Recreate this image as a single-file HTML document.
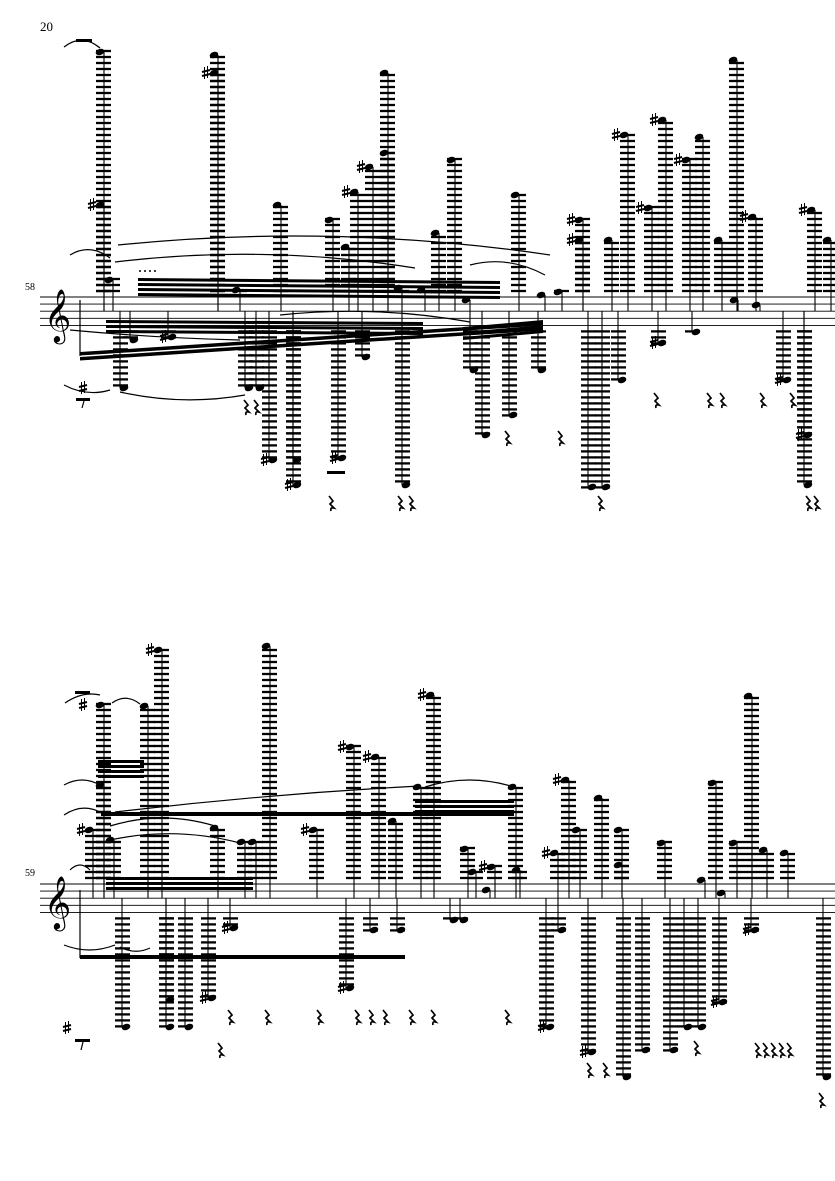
<!DOCTYPE html>
<html><head><meta charset="utf-8"><style>
html,body{margin:0;padding:0;background:#fff;}
svg{display:block;}
text{font-family:"Liberation Serif",serif;}
</style></head><body>
<svg id="s" width="835" height="1181" viewBox="0 0 835 1181" xmlns="http://www.w3.org/2000/svg">
<rect width="835" height="1181" fill="#fff"/>
<text x="40" y="31" font-size="13">20</text>
<text x="25" y="290" font-size="10">58</text>
<text x="25" y="876" font-size="10">59</text>
<g id="g" stroke="#000" fill="#000"></g>
</svg>
<script>
var g=document.getElementById('g'),NS='http://www.w3.org/2000/svg';
function el(t,a){var e=document.createElementNS(NS,t);for(var k in a)e.setAttribute(k,a[k]);g.appendChild(e);return e;}
function line(x1,y1,x2,y2,w){el('line',{x1:x1,y1:y1,x2:x2,y2:y2,'stroke-width':w||1});}
var SP=7.1,LS=6;
function staff(top){for(var i=0;i<5;i++)line(40,top+i*SP,835,top+i*SP,0.9);}
function head(x,y){el('ellipse',{cx:x,cy:y,rx:4.4,ry:3.1,transform:'rotate(-20 '+x+' '+y+')',stroke:'none'});}
function sharp(x,y){line(x-1.5,y-6,x-1.5,y+6,1);line(x+1.5,y-7,x+1.5,y+5,1);line(x-4,y-1,x+4,y-3,2);line(x-4,y+3,x+4,y+1,2);}
function up(x,top,ny,sh){
  line(x,ny,x,top+SP*2,1.1);
  for(var y=top-LS;y>=ny-1;y-=LS)line(x-8,y,x+7,y,2.3);
  head(x-4,ny);if(sh)sharp(x-12,ny);}
function dn(x,top,ny,sh){
  var bot=top+4*SP;line(x,bot-SP*2,x,ny,1.1);
  for(var y=bot+LS;y<=ny+1;y+=LS)line(x-7,y,x+8,y,2.3);
  head(x+4,ny);if(sh)sharp(x-4,ny);}
function rest(x,y){el('path',{d:'M'+(x-1)+' '+(y-7)+' l4 5 l-3 3 l4 4 q-4 -1 -3 3',fill:'none','stroke-width':1.7});}
function beam(x1,y1,x2,y2,n,w){for(var i=0;i<n;i++)el('polygon',{points:x1+','+(y1+i*5)+' '+x2+','+(y2+i*5)+' '+x2+','+(y2+i*5+(w||3))+' '+x1+','+(y1+i*5+(w||3)),stroke:'none'});}
function arc(x1,y1,x2,y2,h){el('path',{d:'M'+x1+' '+y1+' Q'+((x1+x2)/2)+' '+(y1-h)+' '+x2+' '+y2,fill:'none','stroke-width':1.2});}
function clef(x,top){var t=document.createElementNS(NS,'text');t.setAttribute('x',x-6);t.setAttribute('y',top+34);t.setAttribute('font-size','46');t.setAttribute('font-family','DejaVu Sans, serif');t.setAttribute('stroke','none');t.textContent='\u{1D11E}';g.appendChild(t);}

var T1=297;staff(T1);clef(50,T1);
[[104,52],[104,205,1],[218,55],[218,73,1],[281,205],[333,220],[349,247],[358,192,1],[373,167,1],[388,73],[388,153],[439,233],[455,160],[519,195],[583,220,1],[583,240,1],[612,240],[628,135,1],[652,208,1],[666,120,1],[690,160,1],[703,137],[737,60],[722,240],[756,217,1],[815,210,1],[831,240],[113,280],[240,290],[402,288],[425,290],[470,300],[545,295],[562,292],[738,300],[760,305]].forEach(function(a){up(a[0],T1,a[1],a[2]);});
[[120,388],[245,388],[256,388],[269,460,1],[293,485,1],[293,460],[338,458,1],[402,485],[482,435],[509,415],[538,370],[588,487],[602,487],[618,380],[783,380,1],[804,485],[804,435,1],[658,343,1],[692,332],[362,357],[130,340],[168,337,1],[470,370]].forEach(function(a){dn(a[0],T1,a[1],a[2]);});
beam(80,352,543,322,2,3.5);
beam(138,278,500,281,4,3);
beam(106,320,423,322,3,3);
beam(463,327,543,320,3,3);
line(80,300,80,356,1.2);
[[330,503],[399,503],[410,503],[599,503],[807,503],[815,503],[655,400],[708,400],[721,400],[761,400],[791,400],[506,438],[559,438],[245,407],[255,407]].forEach(function(a){rest(a[0],a[1]);});
sharp(83,388);beam(76,398,90,398,1,3);line(84,401,82,408,1.2);
beam(76,39,92,39,1,3);
arc(64,47,100,48,14);arc(64,385,110,390,-12);
arc(120,392,245,395,-14);
arc(118,245,550,255,22);arc(115,262,415,268,18);arc(70,255,110,258,12);arc(70,330,240,340,-8);
arc(470,265,545,275,10);arc(280,315,470,322,10);
[140,145,150,155].forEach(function(x){el('circle',{cx:x,cy:271,r:1,stroke:'none'});});
beam(327,471,345,471,1,3);

var T2=884;staff(T2);clef(50,T2);
[[104,705],[104,785],[148,706],[162,650,1],[270,646],[93,830,1],[114,840],[218,828],[245,842],[256,842],[317,830,1],[354,747,1],[379,757,1],[396,821],[421,787],[434,695,1],[516,787],[495,867,1],[569,780,1],[558,853,1],[580,830],[602,798],[622,830],[665,843],[716,783],[737,843],[752,696],[767,850],[788,853],[468,849],[476,872],[490,890],[520,870],[622,865],[705,880],[725,893]].forEach(function(a){up(a[0],T2,a[1],a[2]);});
[[122,1027],[166,1027],[166,1000],[185,1027],[208,998,1],[230,928,1],[346,988,1],[370,930],[397,930],[546,1027,1],[558,930],[588,1052,1],[623,1077],[642,1050],[670,1050],[684,1027],[698,1027],[719,1002,1],[751,930,1],[823,1077],[450,920],[460,920]].forEach(function(a){dn(a[0],T2,a[1],a[2]);});
beam(80,955,405,955,1,4);line(80,890,80,958,1.2);
beam(106,877,253,877,3,3);
beam(101,812,514,812,1,4);
beam(98,760,144,760,4,3);
beam(415,800,514,800,3,3);
[[229,1017],[266,1017],[318,1017],[356,1017],[370,1017],[384,1017],[410,1017],[432,1017],[506,1017],[219,1050],[588,1070],[604,1070],[695,1048],[756,1050],[764,1050],[772,1050],[780,1050],[788,1050],[820,1100]].forEach(function(a){rest(a[0],a[1]);});
sharp(67,1028);beam(75,1039,90,1039,1,3);line(83,1042,81,1050,1.2);
beam(75,691,90,691,1,3);sharp(83,705);
arc(65,703,100,695,12);arc(112,703,140,704,10);
arc(64,785,100,785,10);arc(64,815,100,812,12);arc(110,826,215,826,16);
arc(110,840,240,843,14);arc(115,812,420,786,18);arc(425,787,514,787,14);
arc(64,945,115,945,-10);arc(120,947,150,948,-8);
arc(70,870,90,870,10);
</script>
</body></html>
